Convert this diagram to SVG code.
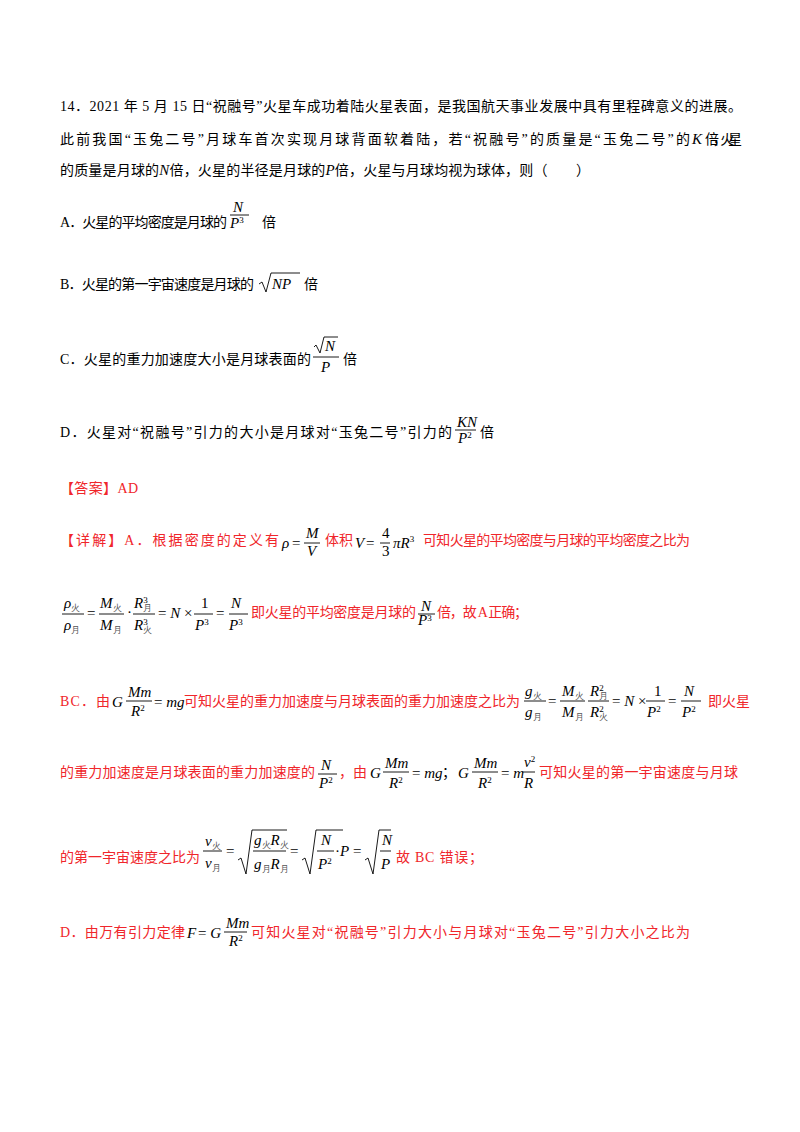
<svg xmlns="http://www.w3.org/2000/svg" width="800" height="1132" viewBox="0 0 800 1132">
<style>
text{font-family:"Liberation Serif","Noto Sans CJK SC",serif;font-size:14px;fill:#000}
.r{fill:#f0262b}
.m{font-family:"Liberation Serif",serif;font-style:italic;font-size:15px;fill:#000}
.n{font-family:"Liberation Serif",serif;font-size:15px;fill:#000}
.s{font-size:9px}
line{stroke:#000;stroke-width:0.9}
path{fill:none;stroke:#000;stroke-width:0.9}
</style>
<rect width="800" height="1132" fill="#fff"/>
<g id="question">
<text x="60" y="111" textLength="682" lengthAdjust="spacing">14．2021 年 5 月 15 日“祝融号”火星车成功着陆火星表面，是我国航天事业发展中具有里程碑意义的进展。</text>
<text x="60" y="144" textLength="630" lengthAdjust="spacing">此前我国“玉兔二号”月球车首次实现月球背面软着陆，若“祝融号”的质量是“玉兔二号”的</text>
<text x="692" y="144" class="m">K</text><text x="705" y="144" textLength="37" lengthAdjust="spacing">倍，火星</text>
<text x="60" y="175" textLength="530" lengthAdjust="spacing">的质量是月球的<tspan class="m">N</tspan>倍，火星的半径是月球的<tspan class="m">P</tspan>倍，火星与月球均视为球体，则（　　）</text>
</g>
<g id="optA">
<text x="60" y="227" textLength="167" lengthAdjust="spacing">A．火星的平均密度是月球的</text>
<text x="233" y="212" class="m" font-size="11">N</text><line x1="230" y1="215" x2="249" y2="215"/>
<text x="230" y="228" class="m" font-size="11">P<tspan class="s" dy="-5" font-style="normal">3</tspan></text>
<text x="262" y="227">倍</text>
</g>
<g id="optB">
<text x="60" y="289" textLength="194" lengthAdjust="spacing">B．火星的第一宇宙速度是月球的</text>
<path d="M259 284 L262 282 L266 292 L271 273 L300 273"/>
<text x="272" y="289" class="m">NP</text>
<text x="304" y="289">倍</text>
</g>
<g id="optC">
<text x="60" y="364" textLength="251" lengthAdjust="spacing">C．火星的重力加速度大小是月球表面的</text>
<path d="M314 347 L316 345 L320 353 L324 337 L338 337"/>
<text x="325" y="351" class="m">N</text>
<line x1="313" y1="357" x2="339" y2="357"/>
<text x="321" y="372" class="m">P</text>
<text x="343" y="364">倍</text>
</g>
<g id="optD">
<text x="60" y="437" textLength="392" lengthAdjust="spacing">D．火星对“祝融号”引力的大小是月球对“玉兔二号”引力的</text>
<text x="457" y="427" class="m" font-size="12">KN</text><line x1="455" y1="430" x2="476" y2="430"/>
<text x="458" y="443" class="m" font-size="12">P<tspan class="s" dy="-5" font-style="normal">2</tspan></text>
<text x="480" y="437">倍</text>
</g>
<g id="answer">
<text x="60" y="493" class="r" textLength="78" lengthAdjust="spacing">【答案】AD</text>
</g>
<g id="detail1">
<text x="60" y="545" class="r" textLength="219" lengthAdjust="spacing">【详解】A．根据密度的定义有</text>
<text x="282" y="548" class="m">ρ</text><text x="292" y="548" class="n">=</text>
<text x="306" y="538" class="m" font-size="13">M</text><line x1="304" y1="543" x2="320" y2="543"/><text x="307" y="556" class="m" font-size="13">V</text>
<text x="325" y="545" class="r">体积</text>
<text x="355" y="548" class="m">V</text><text x="366" y="548" class="n">=</text>
<text x="382" y="538" class="n" font-size="13">4</text><line x1="380" y1="543" x2="390" y2="543"/><text x="382" y="556" class="n" font-size="13">3</text>
<text x="393" y="548" class="m">πR<tspan class="s" dy="-6" font-style="normal">3</tspan></text>
<text x="423" y="545" class="r" textLength="267" lengthAdjust="spacing">可知火星的平均密度与月球的平均密度之比为</text>
</g>
<g id="detail2">
<text x="64" y="608" class="m" font-size="14">ρ<tspan class="s" dy="3" font-style="normal" fill="#555">火</tspan></text>
<line x1="62" y1="614" x2="84" y2="614"/>
<text x="64" y="630" class="m" font-size="14">ρ<tspan class="s" dy="3" font-style="normal" fill="#555">月</tspan></text>
<text x="87" y="618" class="n">=</text>
<text x="100" y="608" class="m" font-size="14">M<tspan class="s" dy="3" font-style="normal" fill="#555">火</tspan></text>
<line x1="99" y1="614" x2="124" y2="614"/>
<text x="100" y="630" class="m" font-size="14">M<tspan class="s" dy="3" font-style="normal" fill="#555">月</tspan></text>
<text x="127" y="617" class="n">·</text>
<text x="134" y="608" class="m" font-size="14">R<tspan class="s" dy="-5" font-style="normal">3</tspan><tspan class="s" dx="-5" dy="8" font-style="normal" fill="#555">月</tspan></text>
<line x1="133" y1="614" x2="155" y2="614"/>
<text x="134" y="630" class="m" font-size="14">R<tspan class="s" dy="-5" font-style="normal">3</tspan><tspan class="s" dx="-5" dy="8" font-style="normal" fill="#555">火</tspan></text>
<text x="158" y="618" class="n">= <tspan class="m">N</tspan> ×</text>
<text x="201" y="608" class="n" font-size="14">1</text><line x1="194" y1="614" x2="213" y2="614"/>
<text x="195" y="630" class="m" font-size="14">P<tspan class="s" dy="-5" font-style="normal">3</tspan></text>
<text x="216" y="618" class="n">=</text>
<text x="231" y="608" class="m" font-size="14">N</text><line x1="229" y1="614" x2="248" y2="614"/>
<text x="229" y="630" class="m" font-size="14">P<tspan class="s" dy="-5" font-style="normal">3</tspan></text>
<text x="251" y="617" class="r" textLength="165" lengthAdjust="spacing">即火星的平均密度是月球的</text>
<text x="421" y="611" class="m" font-size="11">N</text><line x1="418" y1="614" x2="435" y2="614"/>
<text x="418" y="625" class="m" font-size="11">P<tspan class="s" dy="-4" font-style="normal">3</tspan></text>
<text x="437" y="617" class="r" textLength="91" lengthAdjust="spacing">倍，故 A 正确；</text>
</g>
<g id="detail3">
<text x="60" y="706" class="r" textLength="50" lengthAdjust="spacing">BC．由</text>
<text x="112" y="707" class="m">G</text>
<text x="128" y="697" class="m" font-size="14">Mm</text><line x1="126" y1="701" x2="152" y2="701"/>
<text x="131" y="716" class="m" font-size="14">R<tspan class="s" dy="-5" font-style="normal">2</tspan></text>
<text x="154" y="707" class="n">= <tspan class="m">mg</tspan></text>
<text x="184" y="706" class="r" textLength="336" lengthAdjust="spacing">可知火星的重力加速度与月球表面的重力加速度之比为</text>
<text x="525" y="696" class="m" font-size="14">g<tspan class="s" dy="3" font-style="normal" fill="#555">火</tspan></text>
<line x1="524" y1="701" x2="546" y2="701"/>
<text x="525" y="717" class="m" font-size="14">g<tspan class="s" dy="3" font-style="normal" fill="#555">月</tspan></text>
<text x="548" y="706" class="n">=</text>
<text x="562" y="696" class="m" font-size="14">M<tspan class="s" dy="3" font-style="normal" fill="#555">火</tspan></text>
<line x1="560" y1="701" x2="585" y2="701"/>
<text x="562" y="717" class="m" font-size="14">M<tspan class="s" dy="3" font-style="normal" fill="#555">月</tspan></text>
<text x="590" y="696" class="m" font-size="14">R<tspan class="s" dy="-5" font-style="normal">2</tspan><tspan class="s" dx="-5" dy="8" font-style="normal" fill="#555">月</tspan></text>
<line x1="588" y1="701" x2="609" y2="701"/>
<text x="590" y="717" class="m" font-size="14">R<tspan class="s" dy="-5" font-style="normal">2</tspan><tspan class="s" dx="-5" dy="8" font-style="normal" fill="#555">火</tspan></text>
<text x="612" y="706" class="n">= <tspan class="m">N</tspan> ×</text>
<text x="654" y="696" class="n" font-size="14">1</text><line x1="646" y1="701" x2="665" y2="701"/>
<text x="647" y="717" class="m" font-size="14">P<tspan class="s" dy="-5" font-style="normal">2</tspan></text>
<text x="668" y="706" class="n">=</text>
<text x="684" y="696" class="m" font-size="14">N</text><line x1="681" y1="701" x2="701" y2="701"/>
<text x="682" y="717" class="m" font-size="14">P<tspan class="s" dy="-5" font-style="normal">2</tspan></text>
<text x="708" y="706" class="r">即火星</text>
</g>
<g id="detail4">
<text x="60" y="777" class="r" textLength="255" lengthAdjust="spacing">的重力加速度是月球表面的重力加速度的</text>
<text x="321" y="770" class="m" font-size="13">N</text><line x1="318" y1="774" x2="337" y2="774"/>
<text x="319" y="788" class="m" font-size="13">P<tspan class="s" dy="-5" font-style="normal">2</tspan></text>
<text x="339" y="777" class="r">，由</text>
<text x="370" y="778" class="m">G</text>
<text x="385" y="768" class="m" font-size="14">Mm</text><line x1="383" y1="772" x2="409" y2="772"/>
<text x="389" y="788" class="m" font-size="14">R<tspan class="s" dy="-5" font-style="normal">2</tspan></text>
<text x="412" y="778" class="n">= <tspan class="m">mg</tspan></text>
<text x="442" y="777">；</text>
<text x="458" y="778" class="m">G</text>
<text x="474" y="768" class="m" font-size="14">Mm</text><line x1="472" y1="772" x2="498" y2="772"/>
<text x="478" y="788" class="m" font-size="14">R<tspan class="s" dy="-5" font-style="normal">2</tspan></text>
<text x="501" y="778" class="n">= <tspan class="m">m</tspan></text>
<text x="524" y="767" class="m" font-size="14">v<tspan class="s" dy="-5" font-style="normal">2</tspan></text><line x1="522" y1="772" x2="535" y2="772"/>
<text x="524" y="788" class="m" font-size="14">R</text>
<text x="539" y="777" class="r" textLength="199" lengthAdjust="spacing">可知火星的第一宇宙速度与月球</text>
</g>
<g id="detail5">
<text x="60" y="862" class="r" textLength="140" lengthAdjust="spacing">的第一宇宙速度之比为</text>
<text x="205" y="846" class="m" font-size="14">v<tspan class="s" dy="3" font-style="normal" fill="#555">火</tspan></text>
<line x1="203" y1="851" x2="222" y2="851"/>
<text x="205" y="868" class="m" font-size="14">v<tspan class="s" dy="3" font-style="normal" fill="#555">月</tspan></text>
<text x="226" y="856" class="n">=</text>
<path d="M238 860 L241 858 L246 874 L252 830 L287 830"/>
<text x="254" y="845" class="m" font-size="14">g<tspan class="s" dy="3" font-style="normal" fill="#555">火</tspan><tspan dy="-3">R</tspan><tspan class="s" dy="3" font-style="normal" fill="#555">火</tspan></text>
<line x1="253" y1="851" x2="286" y2="851"/>
<text x="254" y="869" class="m" font-size="14">g<tspan class="s" dy="3" font-style="normal" fill="#555">月</tspan><tspan dy="-3">R</tspan><tspan class="s" dy="3" font-style="normal" fill="#555">月</tspan></text>
<text x="290" y="856" class="n">=</text>
<path d="M302 860 L305 858 L310 874 L316 830 L343 830"/>
<text x="321" y="845" class="m" font-size="14">N</text>
<line x1="317" y1="851" x2="334" y2="851"/>
<text x="318" y="869" class="m" font-size="14">P<tspan class="s" dy="-5" font-style="normal">2</tspan></text>
<text x="335" y="856" class="n">·<tspan class="m">P</tspan></text>
<text x="353" y="856" class="n">=</text>
<path d="M365 860 L368 858 L373 874 L379 830 L391 830"/>
<text x="382" y="845" class="m" font-size="14">N</text>
<line x1="380" y1="851" x2="391" y2="851"/>
<text x="381" y="869" class="m" font-size="14">P</text>
<text x="396" y="862" class="r" textLength="87" lengthAdjust="spacing">故 BC 错误；</text>
</g>
<g id="detail6">
<text x="60" y="937" class="r" textLength="125" lengthAdjust="spacing">D．由万有引力定律</text>
<text x="187" y="938" class="m">F</text><text x="198" y="938" class="n">= <tspan class="m">G</tspan></text>
<text x="226" y="928" class="m" font-size="13">Mm</text><line x1="224" y1="932" x2="247" y2="932"/>
<text x="229" y="946" class="m" font-size="13">R<tspan class="s" dy="-5" font-style="normal">2</tspan></text>
<text x="251" y="937" class="r" textLength="439" lengthAdjust="spacing">可知火星对“祝融号”引力大小与月球对“玉兔二号”引力大小之比为</text>
</g>
</svg>
